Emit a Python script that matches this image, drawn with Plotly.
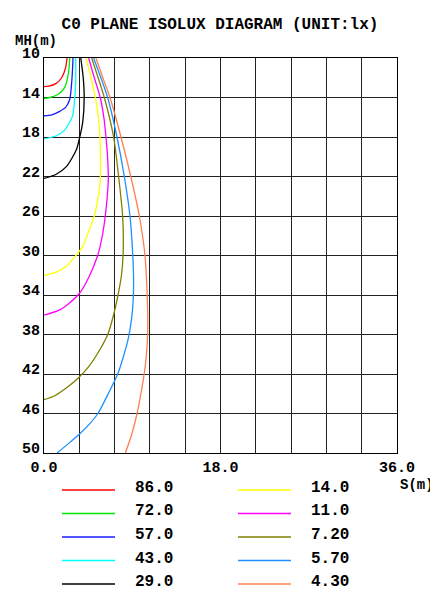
import plotly.graph_objects as go

# isolux levels (lx) and line colours
levels = ["86.0", "72.0", "57.0", "43.0", "29.0", "14.0", "11.0", "7.20", "5.70", "4.30"]
colors = ["#FF0000", "#00E800", "#1A1AFF", "#00FFFF", "#000000",
          "#FFFF00", "#FF00FF", "#808000", "#1E90FF", "#FF7F50"]

# curve points: S (m) and MH (m)
s_86 = [2.35, 2.2, 1.8, 1.2, 0.5, 0.0]
mh_86 = [10, 11, 12, 12.6, 12.85, 12.9]

s_72 = [2.62, 2.5, 2.1, 1.4, 0.6, 0.0]
mh_72 = [10, 11.5, 13, 13.7, 14.0, 14.1]

s_57 = [2.96, 2.86, 2.62, 2.2, 1.6, 0.8, 0.0]
mh_57 = [10, 12, 14.2, 15.0, 15.4, 15.75, 15.85]

s_43 = [3.23, 3.23, 3.1, 2.9, 2.1, 1.2, 0.0]
mh_43 = [10, 12.5, 14.5, 15.9, 17.3, 17.9, 18.2]

s_29 = [3.75, 4.0, 4.1, 3.95, 3.65, 3.3, 2.28, 1.2, 0.0]
mh_29 = [10, 12, 14, 16.5, 18, 19.3, 21.0, 21.8, 22.2]

s_14 = [4.28, 4.8, 5.23, 5.55, 5.71, 5.75, 5.74, 5.47, 5.13, 4.62, 3.94, 3.0, 2.28, 1.2, 0.0]
mh_14 = [10, 12, 14, 16, 18, 20, 22.3, 24.4, 26, 27.4, 29.1, 30.3, 31.1, 31.7, 32.0]

s_11 = [4.55, 5.13, 5.74, 6.1, 6.32, 6.48, 6.56, 6.45, 6.25, 5.95, 5.47, 4.62, 3.64, 2.6, 1.6, 0.0]
mh_11 = [10, 12, 14, 16, 18, 20, 22.3, 24, 26, 28, 30, 32.1, 33.8, 34.8, 35.5, 36.05]

s_7 = [4.86, 6.15, 7.1, 7.61, 8.02, 8.08, 7.9, 7.55, 7.1, 6.5, 5.6, 4.6, 3.5, 2.3, 1.1, 0.0]
mh_7 = [10, 14, 18, 22, 26, 29.5, 32, 34, 36, 38, 39.7, 41.2, 42.4, 43.4, 44.2, 44.6]

s_5 = [5.06, 6.49, 7.44, 8.19, 8.77, 9.0, 9.13, 9.1, 8.92, 8.62, 8.2, 7.52, 6.6, 5.5, 4.7, 3.7, 2.55, 1.33]
mh_5 = [10, 14, 18, 22, 26, 29, 32, 34.5, 36.5, 38.3, 39.9, 42, 43.9, 46, 47, 48, 49, 50]

s_4 = [5.3, 6.0, 6.73, 7.85, 8.85, 9.72, 10.3, 10.48, 10.58, 10.57, 10.45, 10.22, 9.88, 9.49, 8.98, 8.3]
mh_4 = [10, 12, 14, 18, 22, 26, 30, 33, 36, 38, 40, 42, 44, 46, 48, 50]

curves = [(s_86, mh_86), (s_72, mh_72), (s_57, mh_57), (s_43, mh_43), (s_29, mh_29),
          (s_14, mh_14), (s_11, mh_11), (s_7, mh_7), (s_5, mh_5), (s_4, mh_4)]

# axis ticks
x_grid = [0, 3.6, 7.2, 10.8, 14.4, 18, 21.6, 25.2, 28.8, 32.4, 36]
x_labels = ["0.0", "", "", "", "", "18.0", "", "", "", "", "36.0"]
y_ticks = [10, 14, 18, 22, 26, 30, 34, 38, 42, 46, 50]
y_labels = ["10", "14", "18", "22", "26", "30", "34", "38", "42", "46", "50"]

MONO = "Liberation Mono"
PAGE = 8  # the page body margin in front of the figure
W, H = 438 - PAGE, 604 - PAGE
L, T = 44 - PAGE, 58 - PAGE
R, B = W - (397 - PAGE), H - (453 - PAGE)
PW, PH = W - L - R, H - T - B


def px_x(px):
    return (px - PAGE - L) / PW


def px_y(py):
    return (H - B - (py - PAGE)) / PH


fig = go.Figure()

for (s, mh), color, level in zip(curves, colors, levels):
    fig.add_trace(go.Scatter(
        x=s, y=mh, mode="lines", name=level,
        line=dict(color=color, width=1.3, shape="spline", smoothing=0.7),
        showlegend=False, hoverinfo="skip",
    ))

# hand drawn legend: two columns of five
shapes = []
annotations = []
for i, (color, level) in enumerate(zip(colors, levels)):
    col, row = divmod(i, 5)
    x0 = 62 + col * 176
    py = 490 + row * 23.5
    shapes.append(dict(type="line", xref="paper", yref="paper",
                       x0=px_x(x0), x1=px_x(x0 + 53), y0=px_y(py), y1=px_y(py),
                       line=dict(color=color, width=1.3)))
    annotations.append(dict(text=f"<b>{level}</b>", xref="paper", yref="paper",
                            x=px_x(x0 + 71), y=px_y(py - 2), xanchor="left", yanchor="middle",
                            showarrow=False, font=dict(family=MONO, size=16, color="black")))

annotations.append(dict(text="<b>MH(m)</b>", xref="paper", yref="paper",
                        x=px_x(13), y=px_y(41), xanchor="left", yanchor="middle",
                        showarrow=False, font=dict(family=MONO, size=14, color="black")))
annotations.append(dict(text="<b>S(m)</b>", xref="paper", yref="paper",
                        x=px_x(398), y=px_y(485), xanchor="left", yanchor="middle",
                        showarrow=False, font=dict(family=MONO, size=14, color="black")))

fig.update_layout(
    width=W, height=H,
    margin=dict(l=L, r=R, t=T, b=B),
    paper_bgcolor="white", plot_bgcolor="white",
    title=dict(text="<b>C0 PLANE ISOLUX DIAGRAM (UNIT:lx)</b>", x=(220 - PAGE) / W, xanchor="center",
               y=1 - (23 - PAGE) / H, yanchor="middle", font=dict(family=MONO, size=16, color="black")),
    shapes=shapes, annotations=annotations,
    showlegend=False,
)

fig.update_xaxes(
    range=[0, 36], tickvals=x_grid, ticktext=[f"<b>{t}</b>" for t in x_labels], ticks="",
    showgrid=True, gridcolor="#222", gridwidth=1, zeroline=False,
    showline=True, linecolor="black", linewidth=1, mirror=True,
    tickfont=dict(family=MONO, size=15, color="black"),
)
fig.update_yaxes(
    range=[50, 10], tickvals=y_ticks, ticktext=[f"<b>{t}</b>" for t in y_labels], ticks="",
    showgrid=True, gridcolor="#222", gridwidth=1, zeroline=False,
    showline=True, linecolor="black", linewidth=1, mirror=True,
    ticklabelshift=5,
    tickfont=dict(family=MONO, size=15, color="black"),
)

fig.write_html("out.html")
